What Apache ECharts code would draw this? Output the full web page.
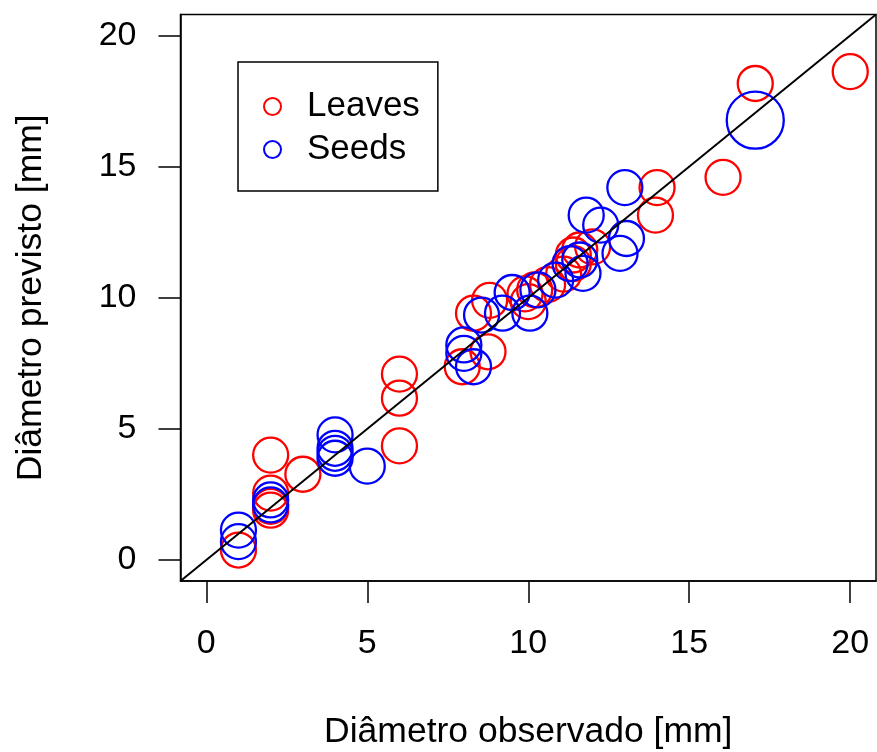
<!DOCTYPE html>
<html>
<head>
<meta charset="utf-8">
<script src="https://cdn.jsdelivr.net/npm/echarts@6/dist/echarts.min.js"></script>
<style>
  html, body { margin: 0; padding: 0; background: #fff; }
  #chart { width: 877px; height: 752px; }
</style>
</head>
<body>
<div id="chart"></div>
<script>
// Observed vs. predicted diameter (mm)
const leavesObs  = [1.0, 2.0, 2.0, 2.0, 2.0, 3.0, 6.0, 6.0, 6.0, 7.95, 8.75, 8.3, 8.8, 9.9, 10.0, 10.2, 10.6, 11.1, 11.4, 11.4, 11.6, 12.0, 13.95, 14.0, 16.05, 17.05, 20.0];
const leavesPred = [0.38, 1.9, 2.05, 2.55, 4.0, 3.27, 7.09, 6.17, 4.35, 7.37, 7.94, 9.41, 9.9, 10.15, 9.85, 10.3, 10.5, 10.9, 11.3, 11.63, 11.82, 11.94, 13.15, 14.2, 14.59, 18.17, 18.62];

const seedsObs   = [1.0, 1.0, 2.0, 2.0, 4.0, 4.0, 4.0, 4.0, 5.0, 8.0, 8.0, 8.3, 8.55, 9.2, 9.5, 10.05, 10.3, 10.85, 11.3, 11.6, 11.7, 11.8, 12.25, 12.85, 13.05, 13.0, 17.05];
const seedsPred  = [1.14, 0.70, 2.29, 2.1, 4.77, 4.26, 4.07, 3.88, 3.58, 8.2, 7.88, 7.37, 9.34, 9.41, 10.2, 9.41, 10.3, 10.67, 11.3, 11.44, 10.93, 13.15, 12.77, 11.69, 12.26, 14.2, 16.77];
// relative bubble weight of each seed point
const seedsWeight = [1, 1, 1, 1, 1, 1, 1, 1, 1, 1, 1, 1, 1, 1, 1, 1, 1, 1, 1, 1, 1, 1, 1, 1, 1, 1, 1.63];

const tickValues = [0, 5, 10, 15, 20];
const axisMin = -0.8, axisMax = 20.8;

const BASE = 35;
const FONT = 'Liberation Sans, Arial, sans-serif';

const zip = (a, b) => a.map((v, i) => [v, b[i]]);

const chart = echarts.init(document.getElementById('chart'));

const axisCommon = {
  type: 'value',
  min: axisMin,
  max: axisMax,
  splitLine: { show: false },
  axisLine: { show: true, onZero: false, lineStyle: { color: '#000', width: 1.5 } },
  axisTick: { show: true, length: 22, inside: false, customValues: tickValues, lineStyle: { color: '#000', width: 1.5 } },
  nameLocation: 'middle',
  nameTextStyle: { fontSize: 35.5, color: '#000', fontFamily: FONT }
};

chart.setOption({
  animation: false,
  backgroundColor: '#fff',
  grid: {
    left: 180.5, top: 14.5, right: 1, bottom: 171,
    show: true, borderColor: '#000', borderWidth: 1.5,
    containLabel: false, outerBoundsMode: 'none'
  },
  legend: {
    orient: 'vertical',
    left: 238, top: 62,
    data: ['Leaves', 'Seeds'],
    backgroundColor: '#fff',
    borderColor: '#000', borderWidth: 1.5, borderRadius: 0,
    padding: [27, 18, 24, 25],
    itemWidth: 17, itemHeight: 17, itemGap: 8,
    icon: 'circle',
    textStyle: { fontSize: 35, color: '#000', fontFamily: FONT, padding: [0, 0, 0, 21] }
  },
  xAxis: Object.assign({}, axisCommon, {
    name: 'Diâmetro observado [mm]',
    nameGap: 133,
    axisLabel: { customValues: tickValues, fontSize: 34, color: '#000', margin: 46, fontFamily: FONT }
  }),
  yAxis: Object.assign({}, axisCommon, {
    name: 'Diâmetro previsto [mm]',
    nameGap: 131,
    axisLabel: { customValues: tickValues, fontSize: 34, color: '#000', margin: 44, fontFamily: FONT }
  }),
  series: [
    {
      name: 'Leaves',
      type: 'scatter',
      data: zip(leavesObs, leavesPred),
      symbol: 'circle',
      symbolSize: BASE,
      itemStyle: { color: 'rgba(0,0,0,0)', borderColor: '#ff0000', borderWidth: 2.3, opacity: 1 },
      emphasis: { disabled: true }
    },
    {
      name: 'Seeds',
      type: 'scatter',
      data: zip(seedsObs, seedsPred),
      symbol: 'circle',
      symbolSize: (val, p) => BASE * seedsWeight[p.dataIndex],
      itemStyle: { color: 'rgba(0,0,0,0)', borderColor: '#0000ff', borderWidth: 2.3, opacity: 1 },
      emphasis: { disabled: true }
    },
    {
      // 1:1 reference line across the full plotting region
      name: 'identity',
      type: 'line',
      data: [[axisMin, axisMin], [axisMax, axisMax]],
      symbol: 'none',
      z: 5,
      silent: true,
      lineStyle: { color: '#000', width: 2 }
    }
  ]
});
</script>
</body>
</html>
